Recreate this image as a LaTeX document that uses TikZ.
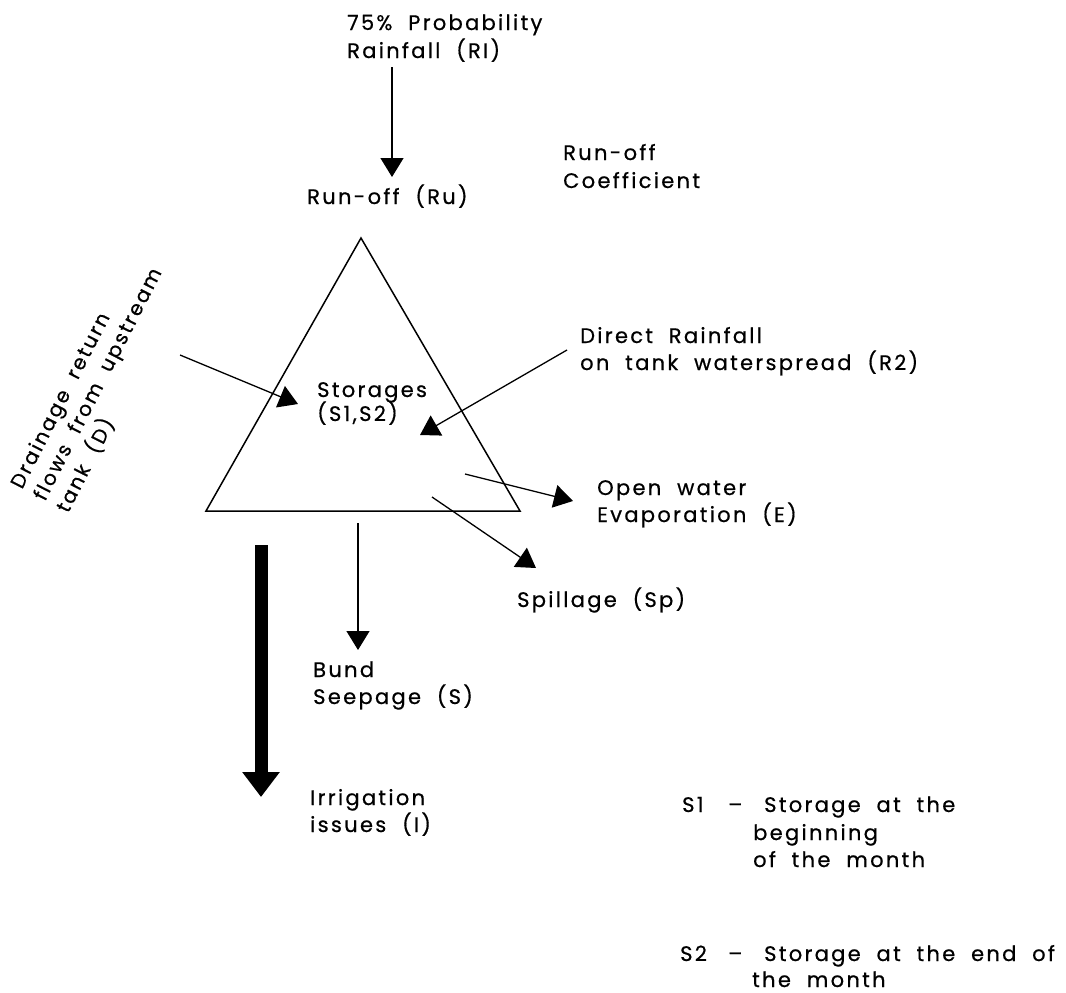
\documentclass[tikz,border=0pt]{standalone}
\usepackage{fontspec}
\setmainfont{Poppins}[LetterSpace=11, WordSpace=2.0, FakeBold=0.6]
\usetikzlibrary{arrows.meta}
\tikzset{
  lbl/.style={anchor=base west, inner sep=0pt, font=\fontsize{21}{25}\selectfont},
  rlbl/.style={lbl, rotate=63, font=\fontsize{20}{24}\selectfont},
  thin arrow/.style={line width=1.3pt, -{Triangle[length=19pt,width=23pt]}},
  thick arrow/.style={line width=13pt, -{Triangle[length=25pt,width=36pt]}},
  tank/.style={line width=1.5pt, line join=miter},
}
\begin{document}
\begin{tikzpicture}[x=1pt,y=-1pt]
\useasboundingbox (0,0) rectangle (1066,993);
% texts
\node[lbl] (p1) at (347,30) {75\% Probability};
\node[lbl] (p2) at (347,58) {Rainfall (RI)};
\node[lbl] (ru) at (307,204) {Run-off (Ru)};
\node[lbl] (rc1) at (563,160) {Run-off};
\node[lbl] (rc2) at (563,188) {Coefficient};
\node[lbl] (dr1) at (580,343) {Direct Rainfall};
\node[lbl] (dr2) at (580,370) {on tank waterspread (R2)};
\node[lbl] (st1) at (317,397) {Storages};
\node[lbl] (st2) at (317,421) {(S1,S2)};
\node[lbl] (ev1) at (597,495) {Open water};
\node[lbl] (ev2) at (597,522) {Evaporation (E)};
\node[lbl] (sp) at (517,607) {Spillage (Sp)};
\node[lbl] (bs1) at (313,677) {Bund};
\node[lbl] (bs2) at (313,704) {Seepage (S)};
\node[lbl] (ir1) at (310,805) {Irrigation};
\node[lbl] (ir2) at (310,832) {issues (I)};
\node[rlbl] (d1) at (22,490) {Drainage return};
\node[rlbl] (d2) at (45,502) {flows from upstream};
\node[rlbl] (d3) at (68,514) {tank (D)};
\node[lbl] (l1a) at (682,812) {S1};
\node[lbl] (l1s) at (728,812) {–};
\node[lbl] (l1b) at (764,812) {Storage at the};
\node[lbl] (l1c) at (753,840) {beginning};
\node[lbl] (l1d) at (753,867) {of the month};
\node[lbl] (l2a) at (680,961) {S2};
\node[lbl] (l2s) at (728,961) {–};
\node[lbl] (l2b) at (764,961) {Storage at the end of};
\node[lbl] (l2c) at (752,987) {the month};
% tank
\coordinate (apex) at (361,238);
\coordinate (bl) at (206,511);
\coordinate (br) at (520,511);
\draw[tank] (apex) -- (bl) -- (br) -- cycle;
% arrows
\coordinate (rfA) at (392,67);   \coordinate (rfB) at (392,177);
\coordinate (drA) at (180,355);  \coordinate (drB) at (298,404);
\coordinate (diA) at (567,350);  \coordinate (diB) at (420,435);
\coordinate (evA) at (465,474);  \coordinate (evB) at (573,501);
\coordinate (spA) at (432,497);  \coordinate (spB) at (536,568);
\coordinate (bsA) at (358,523);  \coordinate (bsB) at (358,650);
\coordinate (irA) at (261,545);  \coordinate (irB) at (261,797);
\draw[thin arrow] (rfA) -- (rfB);
\draw[thin arrow] (drA) -- (drB);
\draw[thin arrow] (diA) -- (diB);
\draw[thin arrow] (evA) -- (evB);
\draw[thin arrow] (spA) -- (spB);
\draw[thin arrow] (bsA) -- (bsB);
\draw[thick arrow] (irA) -- (irB);
\end{tikzpicture}
\end{document}
